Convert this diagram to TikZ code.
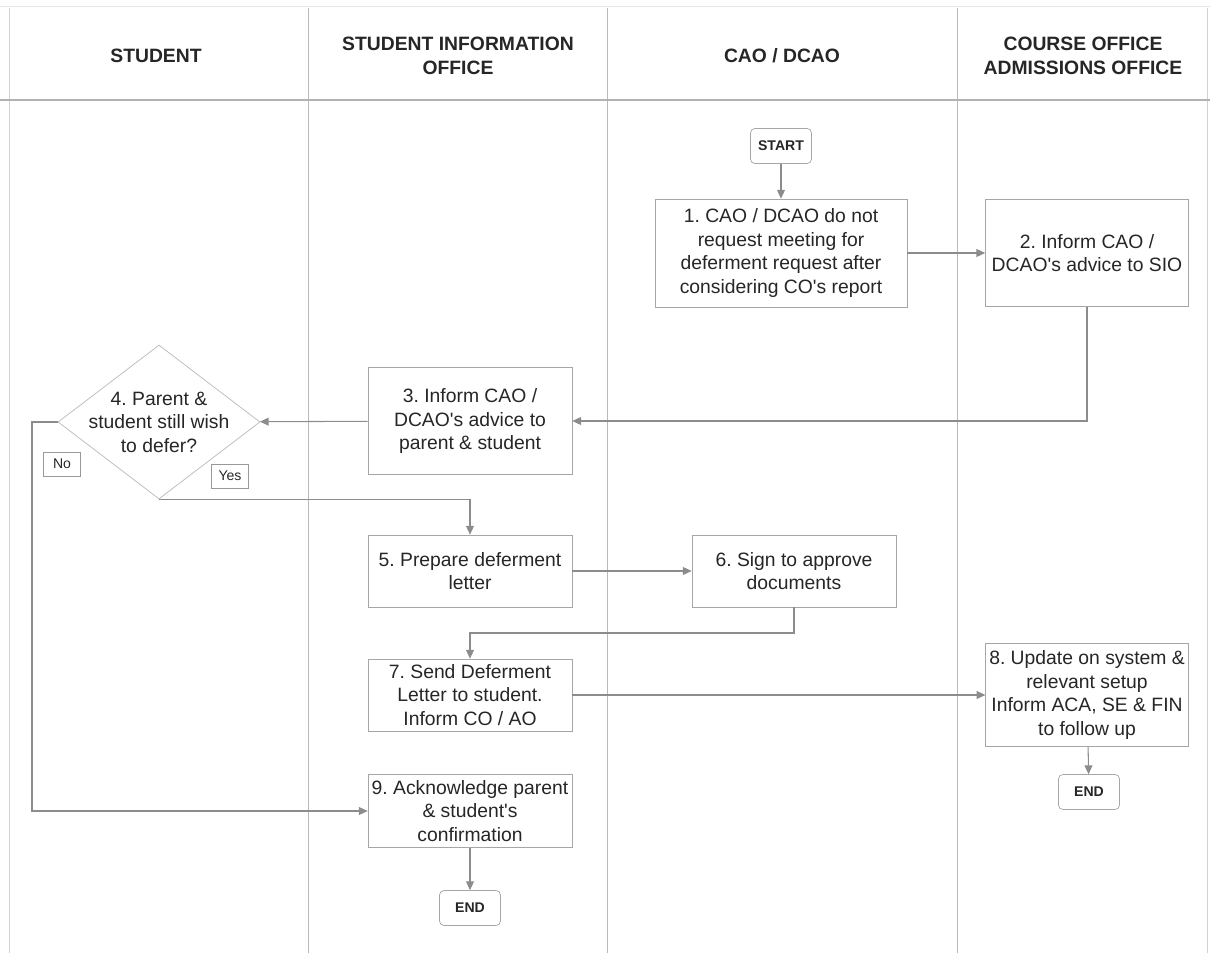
\documentclass[tikz,border=0pt]{standalone}
\usepackage{fontspec}
\setmainfont{Liberation Sans}
\usetikzlibrary{shapes.geometric,arrows.meta}
\frenchspacing

\tikzset{
  lane/.style={draw=gray!55, line width=0.5pt},
  head/.style={font=\fontsize{11}{14}\selectfont\bfseries, align=center, text=black!85},
  stepbox/.style={draw=gray!70, fill=white, align=center, text=black!85,
    font=\fontsize{11}{13.4}\selectfont, inner xsep=2pt, inner ysep=1pt,
    minimum width=4.08cm, minimum height=1.44cm},
  endbox/.style={draw=gray!70, fill=white, rounded corners=2.5pt, text=black!85,
    font=\fontsize{8}{10}\selectfont\bfseries, minimum width=1.22cm, minimum height=0.7cm, inner sep=1pt},
  decbox/.style={diamond, draw=gray!55, fill=white, minimum width=4.04cm, minimum height=3.08cm, inner sep=0pt},
  tagbox/.style={draw=gray!80, fill=white, text=black!85, font=\fontsize{8}{9}\selectfont,
    minimum width=0.73cm, minimum height=0.48cm, inner sep=1pt},
  flow/.style={draw=gray!90, line width=0.6pt, -{Triangle[length=5pt,width=4.5pt]}}
}
\newcommand{\apos}{\textquotesingle}

\begin{document}
\begin{tikzpicture}[x=0.02cm, y=-0.02cm]
  \useasboundingbox (0,0) rectangle (1210,953);

  % Lanes
  \draw [gray!20] (0,6) -- (1210,6);
  \draw [lane, draw=gray!35] (9,8) -- (9,953);
  \draw [lane] (308,8) -- (308,953);
  \draw [lane] (607,8) -- (607,953);
  \draw [lane] (957,8) -- (957,953);
  \draw [lane, draw=gray!35] (1207,8) -- (1207,953);
  \draw [gray!60, line width=0.9pt] (0,100) -- (1210,100);

  % Lane titles
  \node [head] (hstu) at (156,56) {STUDENT};
  \node [head] (hsio) at (458,56) {STUDENT INFORMATION\\OFFICE};
  \node [head] (hcao) at (782,56) {CAO / DCAO};
  \node [head] (hco) at (1083,56) {COURSE OFFICE\\ADMISSIONS OFFICE};

  % Steps
  \node [endbox] (start) at (781,146) {START};
  \node [stepbox, minimum width=5.04cm, minimum height=2.16cm] (s1) at (781,253)
    {1. CAO / DCAO do not\\request meeting for\\deferment request after\\considering CO\apos s report};
  \node [stepbox, minimum width=4.06cm, minimum height=2.14cm] (s2) at (1087,253)
    {2. Inform CAO /\\DCAO\apos s advice to SIO};
  \node [stepbox, minimum height=2.14cm] (s3) at (470,421)
    {3. Inform CAO /\\DCAO\apos s advice to\\parent \& student};
  \node [decbox, label={[align=center, text=black!85, font=\fontsize{11}{13.4}\selectfont]center:{4. Parent \&\\student still wish\\to defer?}}] (dec) at (159,422) {};
  \node [stepbox] (s5) at (470,571) {5. Prepare deferment\\letter};
  \node [stepbox] (s6) at (794,571) {6. Sign to approve\\documents};
  \node [stepbox] (s7) at (470,695) {7. Send Deferment\\Letter to student.\\Inform CO / AO};
  \node [stepbox, minimum width=4.04cm, minimum height=2.06cm] (s8) at (1087,695)
    {8. Update on system \&\\relevant setup\\Inform ACA, SE \& FIN\\to follow up};
  \node [stepbox, minimum height=1.46cm] (s9) at (470,811)
    {9. Acknowledge parent\\\& student\apos s\\confirmation};
  \node [endbox] (end1) at (470,908) {END};
  \node [endbox] (end2) at (1089,792) {END};

  % Branch tags
  \node [tagbox] (tno) at (62,464) {No};
  \node [tagbox] (tyes) at (230,476) {Yes};

  % Bends
  \coordinate (nobend) at (32,422);
  \coordinate (bend67) at (794,633);

  % Connectors
  \draw [flow] (start) -- (s1);
  \draw [flow] (s1) -- (s2);
  \draw [flow] (s2.south) |- (s3.east);
  \draw [flow] (s3) -- (dec);
  \draw [flow] (dec.south) -| (s5.north);
  \draw [flow] (dec.west) -- (nobend) |- (s9.west);
  \draw [flow] (s5) -- (s6);
  \draw [flow] (s6.south) -- (bend67) -| (s7.north);
  \draw [flow] (s7) -- (s8);
  \draw [flow] (s8) -- (end2);
  \draw [flow] (s9) -- (end1);
\end{tikzpicture}
\end{document}
